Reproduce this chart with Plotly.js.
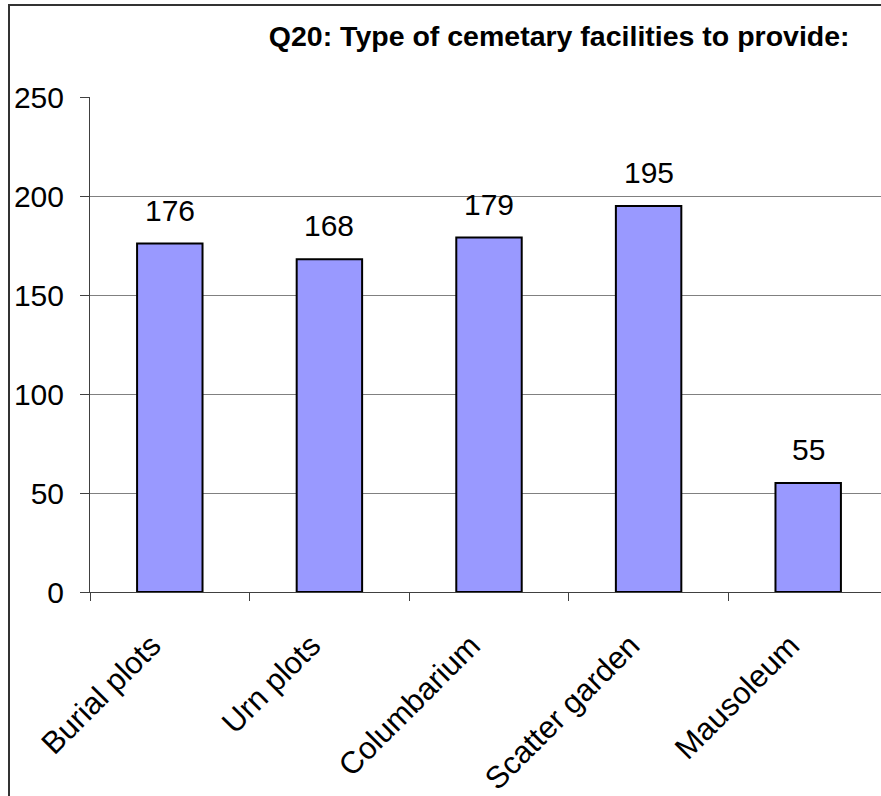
<!DOCTYPE html>
<html>
<head>
<meta charset="utf-8">
<script src="https://cdn.plot.ly/plotly-3.0.1.min.js"></script>
<style>
  html, body { margin:0; padding:0; overflow:hidden; background:#fff; width:881px; height:796px; }
  #chart { position:absolute; left:0; top:0; width:900px; height:796px; }
  #frame { position:absolute; left:8px; top:4px; width:1000px; height:1000px; border:2px solid #333; pointer-events:none; }
</style>
</head>
<body>
<div id="chart"></div>
<div id="frame"></div>
<script>
const categories = ["Burial plots", "Urn plots", "Columbarium", "Scatter garden", "Mausoleum"];
const values = [176, 168, 179, 195, 55];
const yTicks = [0, 50, 100, 150, 200, 250];
const titleText = "Q20: Type of cemetary facilities to provide:";

const font = "Arial, 'Liberation Sans', sans-serif";

const trace = {
  type: "bar",
  x: categories,
  y: values,
  marker: { color: "#9999FF", line: { color: "#000", width: 2 } },
  hoverinfo: "none"
};

const annotations = categories.map((c, i) => ({
  x: c, y: values[i], xref: "x", yref: "y",
  text: String(values[i]), showarrow: false,
  yanchor: "bottom", yshift: 15,
  font: { family: font, size: 30, color: "#000" }
}));

const layout = {
  width: 900, height: 796,
  margin: { l: 90, r: 12, t: 97, b: 204 },
  paper_bgcolor: "#fff", plot_bgcolor: "#fff",
  showlegend: false,
  bargap: 0.59,
  title: {
    text: "<b>" + titleText + "</b>",
    font: { family: font, size: 28.5, color: "#000" },
    xref: "paper", x: 0.588, xanchor: "center",
    yref: "container", y: 0.955, yanchor: "middle"
  },
  xaxis: {
    type: "category",
    showgrid: false,
    showline: true, linecolor: "#404040", linewidth: 1,
    ticks: "outside", ticklen: 8, tickcolor: "#404040",
    tickson: "boundaries",
    tickangle: -45,
    ticklabelstandoff: 22,
    ticklabelshift: -18,
    tickfont: { family: font, size: 31, color: "#000" },
    fixedrange: true
  },
  yaxis: {
    range: [0, 250],
    tickvals: yTicks,
    ticktext: yTicks.map(String),
    showgrid: true, gridcolor: "#808080", gridwidth: 1,
    showline: true, linecolor: "#404040", linewidth: 1,
    ticks: "outside", ticklen: 9, tickcolor: "#404040",
    ticklabelstandoff: 10,
    zeroline: false,
    tickfont: { family: font, size: 30, color: "#000" },
    fixedrange: true
  },
  annotations: annotations
};

Plotly.newPlot("chart", [trace], layout, { staticPlot: true, displayModeBar: false });
</script>
</body>
</html>
